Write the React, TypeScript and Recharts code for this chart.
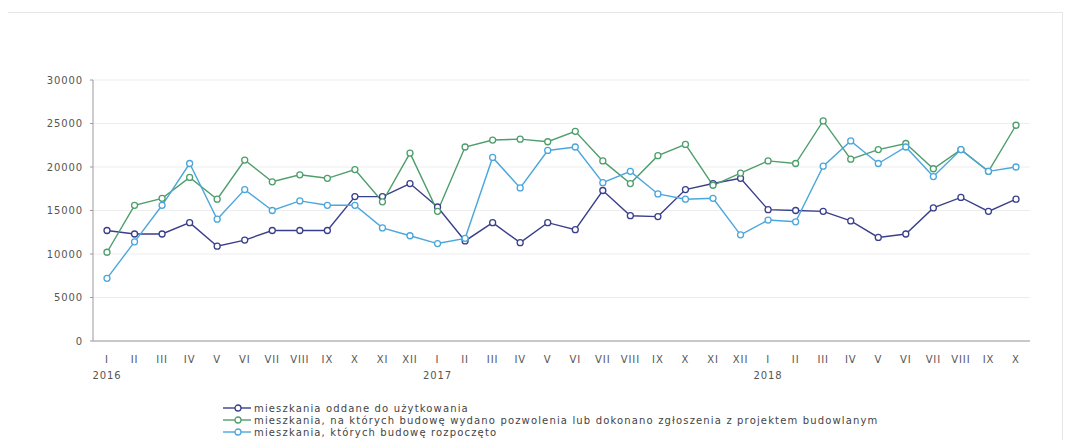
import { LineChart, Line, XAxis, YAxis, CartesianGrid } from 'recharts';

const MONTHS = [
  'I', 'II', 'III', 'IV', 'V', 'VI', 'VII', 'VIII', 'IX', 'X', 'XI', 'XII',
  'I', 'II', 'III', 'IV', 'V', 'VI', 'VII', 'VIII', 'IX', 'X', 'XI', 'XII',
  'I', 'II', 'III', 'IV', 'V', 'VI', 'VII', 'VIII', 'IX', 'X',
];
const YEARS: Record<number, string> = { 0: '2016', 12: '2017', 24: '2018' };

const ODDANE = [
  12700, 12300, 12300, 13600, 10900, 11600, 12700, 12700, 12700, 16600, 16600, 18100,
  15400, 11500, 13600, 11300, 13600, 12800, 17300, 14400, 14300, 17400, 18100, 18700,
  15100, 15000, 14900, 13800, 11900, 12300, 15300, 16500, 14900, 16300,
];
const POZWOLENIA = [
  10200, 15600, 16400, 18800, 16300, 20800, 18300, 19100, 18700, 19700, 16000, 21600,
  14900, 22300, 23100, 23200, 22900, 24100, 20700, 18100, 21300, 22600, 17900, 19300,
  20700, 20400, 25300, 20900, 22000, 22700, 19800, 22000, 19500, 24800,
];
const ROZPOCZETE = [
  7200, 11400, 15600, 20400, 14000, 17400, 15000, 16100, 15600, 15600, 13000, 12100,
  11200, 11800, 21100, 17600, 21900, 22300, 18200, 19500, 16900, 16300, 16400, 12200,
  13900, 13700, 20100, 23000, 20400, 22300, 18900, 22000, 19500, 20000,
];
const Y_TICKS = [0, 5000, 10000, 15000, 20000, 25000, 30000];

const SERIES = [
  { key: 'oddane', name: 'mieszkania oddane do użytkowania', color: '#3a3f8c' },
  {
    key: 'pozwolenia',
    name: 'mieszkania, na których budowę wydano pozwolenia lub dokonano zgłoszenia z projektem budowlanym',
    color: '#4e9e6c',
  },
  { key: 'rozpoczete', name: 'mieszkania, których budowę rozpoczęto', color: '#4ba6dc' },
];

const data = MONTHS.map((m, i) => ({
  month: m,
  oddane: ODDANE[i],
  pozwolenia: POZWOLENIA[i],
  rozpoczete: ROZPOCZETE[i],
}));

const FONT = '"DejaVu Sans", sans-serif';
const TEXT = '#555';
const SPACING = 0.9;

function MonthTick(props: any) {
  const { x, y, payload } = props;
  const year = YEARS[payload.index];
  return (
    <g>
      <text x={x} y={y + 14} textAnchor="middle" fontSize={10} fill={TEXT}
        fontFamily={FONT} letterSpacing={SPACING}>
        {payload.value}
      </text>
      {year && (
        <text x={x} y={y + 29.5} textAnchor="middle" fontSize={10} fill={TEXT}
          fontFamily={FONT} letterSpacing={SPACING}>
          {year}
        </text>
      )}
    </g>
  );
}

export default function App() {
  return (
    <div style={{ position: 'relative', width: 1055, height: 432, fontFamily: FONT }}>
      <div
        style={{
          position: 'absolute', left: -1, top: 4, width: 1056, height: 436,
          border: '1px solid #e6e6e6', boxSizing: 'border-box',
        }}
      />
      <LineChart
        width={1055}
        height={432}
        data={data}
        margin={{ top: 72, right: 33, bottom: 59, left: 0 }}
        style={{ position: 'absolute', left: 0, top: 0 }}
      >
        <CartesianGrid vertical={false} stroke="#ededed" />
        <XAxis
          dataKey="month"
          interval={0}
          padding={{ left: 14, right: 14 }}
          tick={<MonthTick />}
          tickLine={false}
          axisLine={{ stroke: '#9a9a9a' }}
          height={40}
        />
        <YAxis
          domain={[0, 30000]}
          ticks={Y_TICKS}
          width={85}
          tickSize={3}
          tickMargin={7}
          tickLine={{ stroke: '#9a9a9a' }}
          axisLine={{ stroke: '#9a9a9a' }}
          tick={{ fontSize: 10, fill: TEXT, fontFamily: FONT, letterSpacing: SPACING }}
        />
        {SERIES.map((s) => (
          <Line
            key={s.key}
            dataKey={s.key}
            name={s.name}
            stroke={s.color}
            strokeWidth={1.4}
            dot={{ r: 3, fill: '#fff', stroke: s.color, strokeWidth: 1.3 }}
            activeDot={false}
            isAnimationActive={false}
          />
        ))}
      </LineChart>
      <div style={{ position: 'absolute', left: 214, top: 394 }}>
        {SERIES.map((s) => (
          <div key={s.key} style={{ display: 'flex', alignItems: 'center', height: 12 }}>
            <svg width={30} height={10}>
              <line x1={1} y1={5} x2={29} y2={5} stroke={s.color} strokeWidth={1.4} />
              <circle cx={16} cy={5} r={3} fill="#fff" stroke={s.color} strokeWidth={1.3} />
            </svg>
            <span style={{
              fontSize: 10, color: '#444', marginLeft: 2, whiteSpace: 'nowrap',
              letterSpacing: 1.15,
            }}>
              {s.name}
            </span>
          </div>
        ))}
      </div>
    </div>
  );
}
